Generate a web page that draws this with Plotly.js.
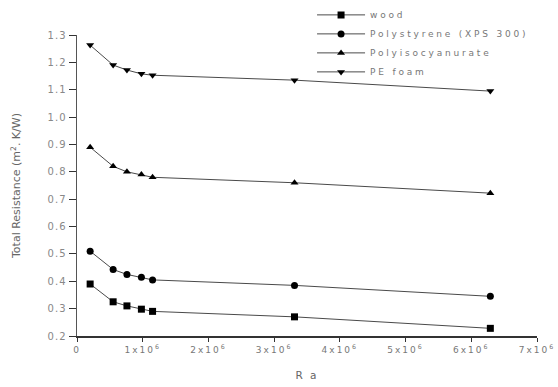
<!DOCTYPE html>
<html><head><meta charset="utf-8">
<script src="https://cdn.plot.ly/plotly-3.0.1.min.js"></script>
<style>
body{margin:0;padding:0;background:#fff}
.legendtext{letter-spacing:2.8px}
.xtick text{letter-spacing:2px}
.ytick text{letter-spacing:1px}
.xtitle{letter-spacing:2px}
</style>
</head><body>
<div id="chart" style="width:558px;height:387px"></div>
<script>
const ra = [0.2e6, 0.55e6, 0.76e6, 0.98e6, 1.15e6, 3.31e6, 6.29e6];
const wood = [0.39, 0.325, 0.31, 0.298, 0.29, 0.27, 0.228];
const polystyrene = [0.51, 0.443, 0.425, 0.415, 0.405, 0.385, 0.345];
const polyiso = [0.89, 0.82, 0.80, 0.79, 0.78, 0.76, 0.722];
const peFoam = [1.263, 1.19, 1.172, 1.158, 1.153, 1.135, 1.095];
const seriesNames = ["wood", "Polystyrene (XPS 300)", "Polyisocyanurate", "PE foam"];
const xTickVals = [0, 1e6, 2e6, 3e6, 4e6, 5e6, 6e6, 7e6];
const xTickText = ["0", "1x10<sup>6</sup>", "2x10<sup>6</sup>", "3x10<sup>6</sup>", "4x10<sup>6</sup>", "5x10<sup>6</sup>", "6x10<sup>6</sup>", "7x10<sup>6</sup>"];
const yTickVals = [0.2,0.3,0.4,0.5,0.6,0.7,0.8,0.9,1.0,1.1,1.2,1.3];
const yTickText = ["0.2","0.3","0.4","0.5","0.6","0.7","0.8","0.9","1.0","1.1","1.2","1.3"];

const ys = [wood, polystyrene, polyiso, peFoam];
const symbols = ["square", "circle", "triangle-up", "triangle-down"];
const traces = ys.map((y, i) => ({
  x: ra, y: y, name: seriesNames[i], type: "scatter", mode: "lines+markers",
  line: {color: "#4a4a4a", width: 1},
  marker: {symbol: symbols[i], color: "#000", size: 7}
}));

const layout = {
  width: 558, height: 387,
  margin: {l: 77, r: 21, t: 35, b: 51, autoexpand: false},
  paper_bgcolor: "#fff", plot_bgcolor: "#fff",
  font: {family: "DejaVu Sans, Arial, sans-serif", color: "#777", size: 9},
  showlegend: true,
  legend: {x: 0.511, y: 1.115, xanchor: "left", yanchor: "top", bgcolor: "rgba(0,0,0,0)",
    font: {size: 9, color: "#777"}, tracegroupgap: 0, itemwidth: 48},
  xaxis: {range: [0, 7e6], tickvals: xTickVals, ticktext: xTickText,
    showgrid: false, zeroline: false, showline: true, linecolor: "#333", linewidth: 2,
    ticks: "outside", ticklen: 4, tickcolor: "#333",
    tickfont: {size: 9, color: "#777"},
    title: {text: "R a", font: {size: 10.5, color: "#666"}, standoff: 18}},
  yaxis: {range: [0.2, 1.3], tickvals: yTickVals, ticktext: yTickText,
    showgrid: false, zeroline: false, showline: true, linecolor: "#555", linewidth: 1.5,
    ticks: "outside", ticklen: 7, tickcolor: "#333",
    tickfont: {size: 10, color: "#888"},
    title: {text: "Total Resistance (m<sup>2</sup>. K/W)", font: {size: 11, color: "#666"}, standoff: 24}}
};
Plotly.newPlot("chart", traces, layout, {displayModeBar: false, staticPlot: true});
</script>
</body></html>
